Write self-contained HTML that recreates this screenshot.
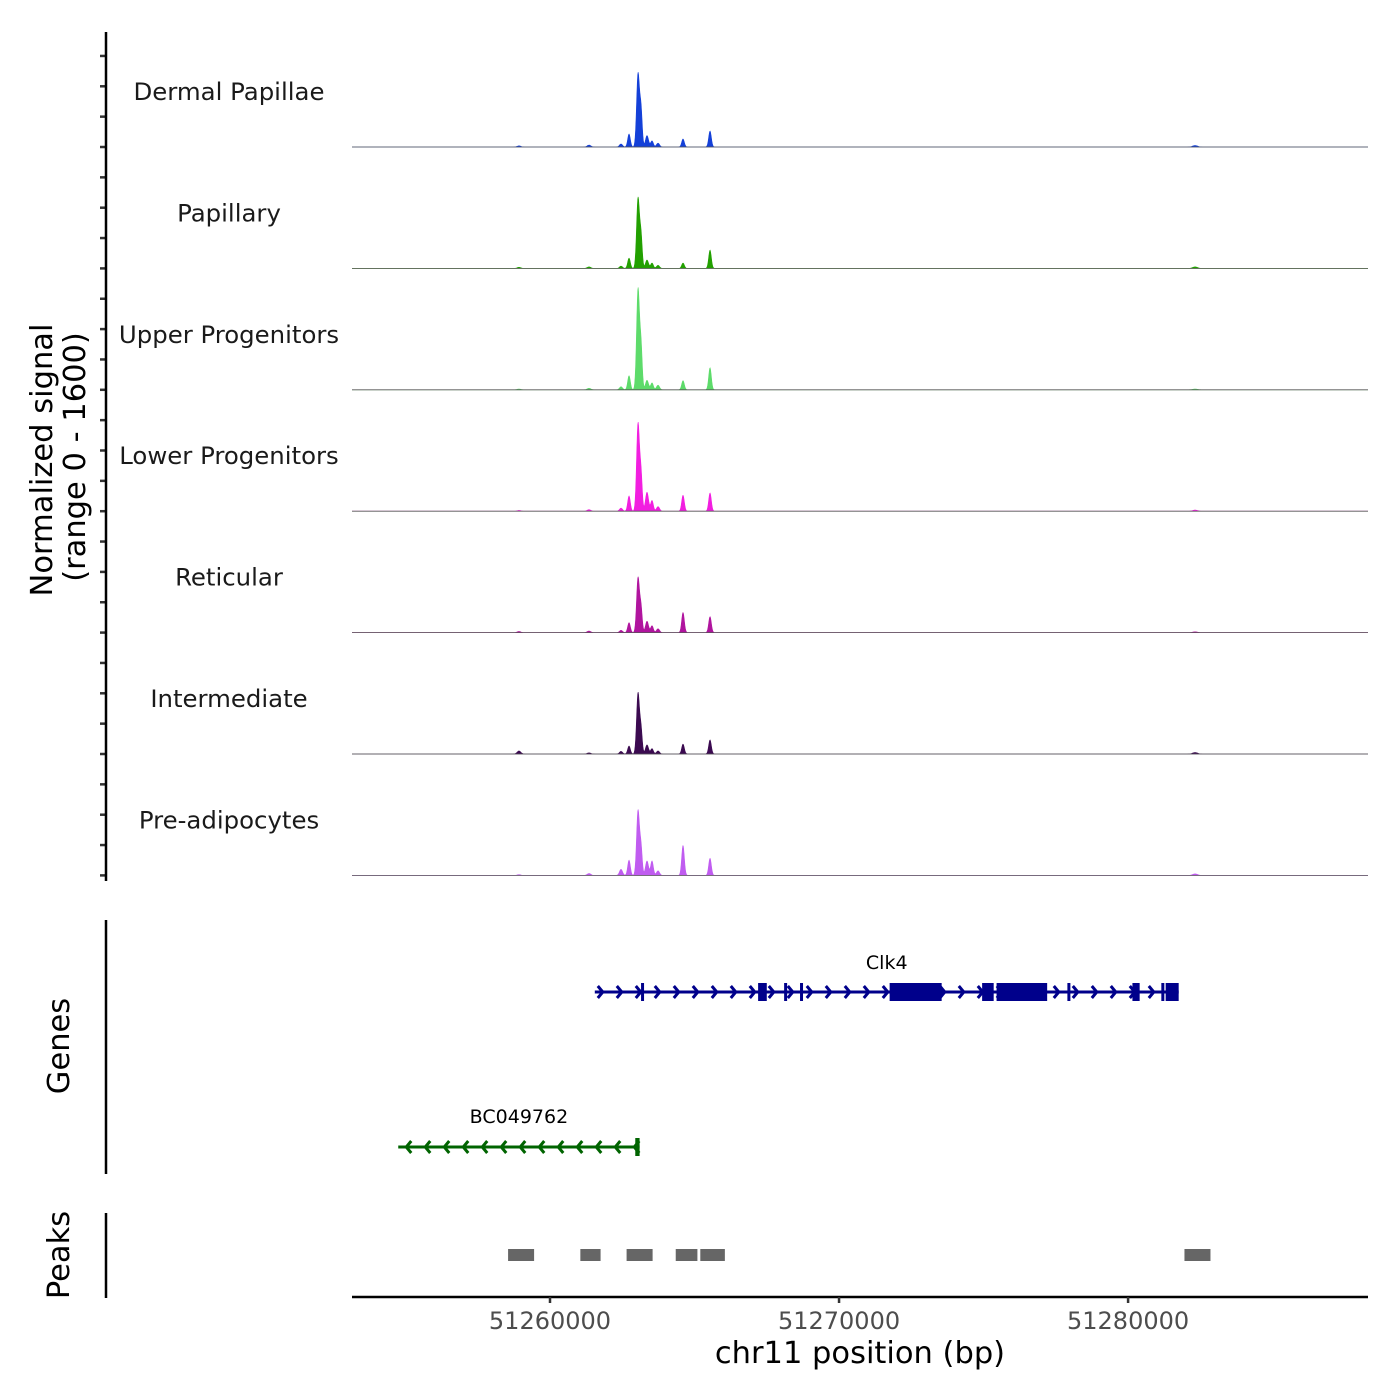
<!DOCTYPE html>
<html><head><meta charset="utf-8">
<style>
body{margin:0;background:#fff;}
svg{display:block;font-family:"DejaVu Sans","Liberation Sans",sans-serif;}
</style></head>
<body>
<svg id="chart" width="1400" height="1400" viewBox="0 0 1400 1400" xmlns="http://www.w3.org/2000/svg">
<g id="tracks"></g>
<g id="genes"></g>
<g id="peaks"></g>
<g id="axes"></g>
</svg>
<script>
const trackNames = ["Dermal Papillae","Papillary","Upper Progenitors","Lower Progenitors","Reticular","Intermediate","Pre-adipocytes"];
const trackColors = ["#1440d8","#22a000","#5ddb6a","#f21ee0","#b0149e","#3b0a50","#c05cf0"];
const peakCenters = [51258927,51261349,51262457,51262734,51263045,51263149,51263356,51263529,51263737,51264602,51265536,51282318];
const peakWidths  = [90,90,75,65,70,60,75,65,75,65,65,120];
const trackHeights = [
  [15,25,40,170,960,480,150,80,50,105,210,20],
  [15,20,30,135,920,420,110,70,40,70,240,20],
  [10,20,40,185,1320,560,125,90,60,120,290,10],
  [10,20,40,200,1150,480,250,140,60,210,240,15],
  [15,20,30,130,720,320,150,90,50,265,210,10],
  [40,15,35,105,800,320,120,70,40,130,185,20],
  [10,25,80,200,850,360,190,190,60,395,225,20]
];
const xTicks = [51260000,51270000,51280000];
const xDomain = [51253150,51288300];
const yMax = 1600;
const yTickVals = [0,400,800,1200];
const peakRegions = [[51258550,51259450],[51261050,51261750],[51262650,51263550],[51264350,51265100],[51265200,51266050],[51281950,51282850]];
const clk4 = {start:51261550,end:51281750,label:"Clk4"};
const clk4Exons = [[51263150,51263250],[51267200,51267500],[51268100,51268180],[51268650,51268730],[51271750,51273550],[51274950,51275350],[51275450,51277200],[51277900,51277980],[51280150,51280400],[51281150,51281230],[51281300,51281750]];
const bc = {start:51254750,end:51263100,label:"BC049762"};
const bcExons = [[51262950,51263100]];

const NS="http://www.w3.org/2000/svg";
const X0=352,X1=1368;
function xs(bp){return X0+(bp-xDomain[0])/(xDomain[1]-xDomain[0])*(X1-X0);}
const TH=121.4, firstBase=147;
function el(tag,attrs,parent){const e=document.createElementNS(NS,tag);for(const k in attrs)e.setAttribute(k,attrs[k]);parent.appendChild(e);return e;}
const gT=document.getElementById('tracks'),gG=document.getElementById('genes'),gP=document.getElementById('peaks'),gA=document.getElementById('axes');

trackNames.forEach((name,t)=>{
  const base=firstBase+t*TH;
  const ys=v=>base-v/yMax*TH;
  let d="M"+X0+","+base;
  for(let bp=xDomain[0];bp<=xDomain[1];bp+=15){
    let v=0;
    peakCenters.forEach((c,i)=>{const z=(bp-c)/peakWidths[i];if(Math.abs(z)<5)v+=trackHeights[t][i]*Math.exp(-z*z);});
    d+=" L"+xs(bp).toFixed(2)+","+ys(v).toFixed(2);
  }
  d+=" L"+X1+","+base+" Z";
  const p=el('path',{d:d,fill:trackColors[t],stroke:trackColors[t],'stroke-width':0.6},gT);
  
  
  const bl=el('line',{x1:X0,x2:X1,y1:base,y2:base,stroke:'#555','stroke-width':0.8},gT);
  
  
  const lb=el('text',{x:229,y:base-47,'font-size':24.4,'text-anchor':'middle',fill:'#1a1a1a'},gT);
  lb.textContent=name;
  
  
  yTickVals.forEach(v=>{
    const tk=el('line',{x1:100,x2:106,y1:ys(v),y2:ys(v),stroke:'#333','stroke-width':2.5},gA);
    
    
  });
});

function drawGene(g,exons,y,color,dir,labelY){
  const x1=xs(g.start),x2=xs(g.end);
  el('line',{x1:x1,x2:x2,y1:y,y2:y,stroke:color,'stroke-width':3},gG);
  for(let x=x1+8;x<x2-4;x+=19){
    const s=dir>0?-1:1;
    el('path',{d:`M${x+s*5},${y-6} L${x},${y} L${x+s*5},${y+6}`,fill:'none',stroke:color,'stroke-width':3},gG);
  }
  exons.forEach(e=>{
    const a=xs(e[0]),b=xs(e[1]);
    el('rect',{x:a,y:y-9,width:Math.max(3,b-a),height:18,fill:color},gG);
  });
  const lb=el('text',{x:(x1+x2)/2,y:labelY,'font-size':19,'text-anchor':'middle',fill:'#000'},gG);
  lb.textContent=g.label;
  
  
}
drawGene(clk4,clk4Exons,992,'#00008b',1,969);
drawGene(bc,bcExons,1147,'#006400',-1,1123);

peakRegions.forEach(r=>{
  const rc=el('rect',{x:xs(r[0]),y:1249,width:xs(r[1])-xs(r[0]),height:12,fill:'#666'},gP);
  
  
});

el('line',{x1:106,x2:106,y1:32,y2:881,stroke:'#000','stroke-width':2.5},gA);
el('line',{x1:106,x2:106,y1:920,y2:1174,stroke:'#000','stroke-width':2.5},gA);
el('line',{x1:106,x2:106,y1:1213,y2:1298,stroke:'#000','stroke-width':2.5},gA);
el('line',{x1:X0,x2:X1,y1:1297,y2:1297,stroke:'#000','stroke-width':2.5},gA);
xTicks.forEach(v=>{
  el('line',{x1:xs(v),x2:xs(v),y1:1297,y2:1303,stroke:'#333','stroke-width':2.5},gA);
  const t=el('text',{x:xs(v),y:1329,'font-size':24,'text-anchor':'middle',fill:'#4d4d4d'},gA);
  t.textContent=v;
  
  
});
</script>
<svg style="position:absolute;left:0;top:0" width="1400" height="1400">
<text x="860" y="1363" font-size="30.5" text-anchor="middle" font-family="DejaVu Sans, Liberation Sans, sans-serif">chr11 position (bp)</text>
<text transform="translate(52,460) rotate(-90)" font-size="30.5" text-anchor="middle" font-family="DejaVu Sans, Liberation Sans, sans-serif">Normalized signal</text>
<text transform="translate(85,457) rotate(-90)" font-size="30.5" text-anchor="middle" font-family="DejaVu Sans, Liberation Sans, sans-serif">(range 0 - 1600)</text>
<text transform="translate(69,1046) rotate(-90)" font-size="30.5" text-anchor="middle" font-family="DejaVu Sans, Liberation Sans, sans-serif">Genes</text>
<text transform="translate(69,1255) rotate(-90)" font-size="30.5" text-anchor="middle" font-family="DejaVu Sans, Liberation Sans, sans-serif">Peaks</text>
</svg>
</body></html>
